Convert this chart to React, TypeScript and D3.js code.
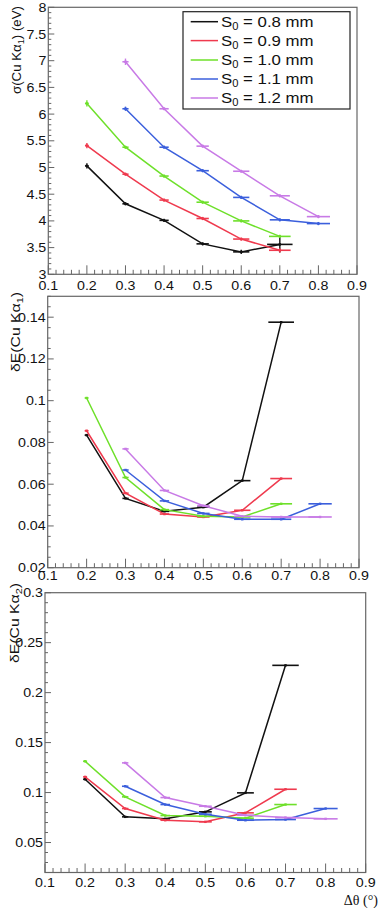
import React from "react";
import * as d3 from "d3";

// ---------- data ----------
const xLow = [0.2, 0.3, 0.4, 0.5, 0.6, 0.7];
const xHigh = [0.3, 0.4, 0.5, 0.6, 0.7, 0.8];

const seriesNames = ["0.8", "0.9", "1.0", "1.1", "1.2"];
const seriesColors = ["#111111", "#ef3a4e", "#6ee02a", "#3b5fdc", "#c87ae6"];

const xErrLow = [0.005, 0.008, 0.012, 0.016, 0.021, 0.028];
const xErrBlack = [0.005, 0.008, 0.012, 0.016, 0.021, 0.033];
const xErrHigh = [0.008, 0.012, 0.016, 0.021, 0.026, 0.03];

// sigma(Cu Ka1) (eV)
const sigBlack = [5.03, 4.32, 4.01, 3.57, 3.42, 3.56];
const sigRed = [5.41, 4.875, 4.39, 4.045, 3.66, 3.45];
const sigGreen = [6.2, 5.38, 4.84, 4.35, 4.0, 3.71];
const sigBlue = [6.1, 5.38, 4.94, 4.44, 4.02, 3.95];
const sigMagenta = [6.98, 6.1, 5.4, 4.93, 4.47, 4.08];

const sigErrBlack = [0.05, 0.03, 0.03, 0.03, 0.04, 0.15];
const sigErrRed = [0.05, 0.03, 0.03, 0.03, 0.03, 0.04];
const sigErrGreen = [0.06, 0.03, 0.03, 0.03, 0.03, 0.03];
const sigErrBlue = [0.04, 0.03, 0.03, 0.03, 0.03, 0.03];
const sigErrMagenta = [0.06, 0.03, 0.03, 0.03, 0.03, 0.03];

// dE(Cu Ka1)
const e1Black = [0.0835, 0.0532, 0.047, 0.049, 0.0617, 0.1376];
const e1Red = [0.0856, 0.0557, 0.0457, 0.0443, 0.0475, 0.0627];
const e1Green = [0.1013, 0.0632, 0.0478, 0.0446, 0.0443, 0.0506];
const e1Blue = [0.0668, 0.052, 0.046, 0.0432, 0.0432, 0.0506];
const e1Magenta = [0.0769, 0.057, 0.0497, 0.0446, 0.0443, 0.0443];

// dE(Cu Ka2)
const e2Black = [0.1133, 0.0757, 0.0737, 0.0807, 0.0997, 0.2273];
const e2Red = [0.1157, 0.084, 0.0723, 0.0707, 0.0797, 0.1033];
const e2Green = [0.1313, 0.0957, 0.077, 0.0763, 0.0743, 0.088];
const e2Blue = [0.1063, 0.088, 0.0783, 0.0723, 0.073, 0.084];
const e2Magenta = [0.1297, 0.095, 0.0863, 0.0773, 0.075, 0.0737];

const xTickLabels = ["0.1", "0.2", "0.3", "0.4", "0.5", "0.6", "0.7", "0.8", "0.9"];
const sigTickLabels = ["3", "3.5", "4", "4.5", "5", "5.5", "6", "6.5", "7", "7.5", "8"];
const e1TickLabels = ["0.02", "0.04", "0.06", "0.08", "0.1", "0.12", "0.14"];
const e2TickLabels = ["0.05", "0.1", "0.15", "0.2", "0.25", "0.3"];

type Series = { x: number[]; y: number[]; xe: number[]; ye?: number[]; color: string };

const FONT = "'Liberation Sans', Arial, Helvetica, sans-serif";
const AXIS_COL = "#666";

function SText(props: {
  x: number; y: number; size: number; anchor?: string; sx?: number; children: React.ReactNode; fill?: string; family?: string;
}) {
  const { x, y, size, anchor = "start", sx = 1.18, children, fill = "#111", family = FONT } = props;
  return (
    <g transform={`translate(${x},${y}) scale(${sx},1)`}>
      <text x={0} y={0} fontSize={size} textAnchor={anchor} fontFamily={family} fill={fill}>
        {children}
      </text>
    </g>
  );
}

function Panel(props: {
  x0: number; x1: number; yTop: number; yBot: number;
  yDomain: [number, number]; yMajor: number; yMinorN: number; yLabels: string[];
  series: Series[]; xLabelBase: number;
  title: React.ReactNode; titleX: number; titleEnd: number; titleLen: number;
}) {
  const { x0, x1, yTop, yBot, yDomain, yMajor, yMinorN, yLabels, series, xLabelBase, title, titleX, titleEnd, titleLen } = props;
  const xs = d3.scaleLinear().domain([0.1, 0.9]).range([x0, x1]);
  const ys = d3.scaleLinear().domain(yDomain).range([yBot, yTop]);

  const xMajor = xTickLabels.map((l) => +l);
  const xMinor: number[] = [];
  for (let i = 0; i < 40; i++) {
    const v = 0.1 + i * 0.02;
    if (i % 5 !== 0) xMinor.push(v);
  }
  const yMajorVals = yLabels.map((l) => +l);
  const yMinor: number[] = [];
  const step = yMajor / yMinorN;
  const start = Math.ceil((yDomain[0] - 1e-9) / step) * step;
  for (let v = start; v <= yDomain[1] + 1e-9; v += step) {
    const r = v / yMajor;
    if (Math.abs(r - Math.round(r)) > 1e-6) yMinor.push(v);
  }

  const line = d3
    .line<[number, number]>()
    .x((d) => xs(d[0]))
    .y((d) => ys(d[1]));

  return (
    <g>
      <rect x={x0} y={yTop} width={x1 - x0} height={yBot - yTop} fill="none" stroke={AXIS_COL} strokeWidth={1.2} />
      {xMajor.map((v, i) => (
        <line key={"xm" + i} x1={xs(v)} x2={xs(v)} y1={yBot} y2={yBot - 9} stroke={AXIS_COL} strokeWidth={1} />
      ))}
      {xMinor.map((v, i) => (
        <line key={"xn" + i} x1={xs(v)} x2={xs(v)} y1={yBot} y2={yBot - 4.5} stroke={AXIS_COL} strokeWidth={1} />
      ))}
      {yMajorVals.map((v, i) => (
        <line key={"ym" + i} x1={x0} x2={x0 + 6} y1={ys(v)} y2={ys(v)} stroke={AXIS_COL} strokeWidth={1} />
      ))}
      {yMinor.map((v, i) => (
        <line key={"yn" + i} x1={x0} x2={x0 + 3} y1={ys(v)} y2={ys(v)} stroke={AXIS_COL} strokeWidth={1} />
      ))}
      {xTickLabels.map((l, i) => (
        <SText key={"xl" + i} x={xs(+l)} y={xLabelBase} size={12.5} sx={1.14} anchor="middle">
          {l}
        </SText>
      ))}
      {yLabels.map((l, i) => (
        <SText key={"yl" + i} x={x0 - 2} y={ys(+l) + 4.5} size={12.5} sx={1.14} anchor="end">
          {l}
        </SText>
      ))}
      <text
        transform={`translate(${titleX},${titleEnd}) rotate(-90)`}
        textAnchor="end"
        fontSize={13}
        fontFamily={FONT}
        fill="#111"
        textLength={titleLen}
        lengthAdjust="spacingAndGlyphs"
      >
        {title}
      </text>
      {series.map((s, si) => {
        const pts: [number, number][] = s.x.map((xv, i) => [xv, s.y[i]]);
        return (
          <g key={"s" + si}>
            <path d={line(pts) || ""} fill="none" stroke={s.color} strokeWidth={1.5} />
            {pts.map((p, i) => (
              <g key={i}>
                <line
                  x1={xs(p[0] - s.xe[i])}
                  x2={xs(p[0] + s.xe[i])}
                  y1={ys(p[1])}
                  y2={ys(p[1])}
                  stroke={s.color}
                  strokeWidth={1.6}
                />
                {s.ye ? (
                  <line
                    x1={xs(p[0])}
                    x2={xs(p[0])}
                    y1={ys(p[1] - s.ye[i])}
                    y2={ys(p[1] + s.ye[i])}
                    stroke={s.color}
                    strokeWidth={1.4}
                  />
                ) : null}
                <rect x={xs(p[0]) - 1.2} y={ys(p[1]) - 1.2} width={2.4} height={2.4} fill={s.color} />
              </g>
            ))}
          </g>
        );
      })}
    </g>
  );
}

function mk(ys: number[][], ye?: number[][]): Series[] {
  const xArr = [xLow, xLow, xLow, xHigh, xHigh];
  const xeArr = [xErrBlack, xErrLow, xErrLow, xErrHigh, xErrHigh];
  return ys.map((y, i) => ({ x: xArr[i], y, xe: xeArr[i], ye: ye ? ye[i] : undefined, color: seriesColors[i] }));
}

export default function App() {
  const sigSeries = mk(
    [sigBlack, sigRed, sigGreen, sigBlue, sigMagenta],
    [sigErrBlack, sigErrRed, sigErrGreen, sigErrBlue, sigErrMagenta]
  );
  const e1Series = mk([e1Black, e1Red, e1Green, e1Blue, e1Magenta]);
  const e2Series = mk([e2Black, e2Red, e2Green, e2Blue, e2Magenta]);

  const legendRows = [21.7, 40.6, 60, 79, 98];

  return (
    <svg width={380} height={908} style={{ position: "absolute", left: 0, top: 0, background: "#fff" }}>
      <rect x={0} y={0} width={380} height={908} fill="#fff" />
      <Panel
        x0={48.3} x1={357} yTop={7.3} yBot={274.3}
        yDomain={[3, 8]} yMajor={0.5} yMinorN={5} yLabels={sigTickLabels}
        series={sigSeries} xLabelBase={290}
        title={<>σ(Cu Kα<tspan fontSize={9} dy={3}>1</tspan><tspan dy={-3}>) (eV)</tspan></>}
        titleX={20.5} titleEnd={6} titleLen={88}
      />
      <Panel
        x0={47.7} x1={359} yTop={296.3} yBot={567.7}
        yDomain={[0.02, 0.15]} yMajor={0.02} yMinorN={4} yLabels={e1TickLabels}
        series={e1Series} xLabelBase={579.5}
        title={<>δE(Cu Kα<tspan fontSize={9} dy={3}>1</tspan><tspan dy={-3}>)</tspan></>}
        titleX={19.5} titleEnd={292} titleLen={80}
      />
      <Panel
        x0={45} x1={365.7} yTop={592.7} yBot={872.5}
        yDomain={[0.02, 0.3]} yMajor={0.05} yMinorN={5} yLabels={e2TickLabels}
        series={e2Series} xLabelBase={887}
        title={<>δE(Cu Kα<tspan fontSize={9} dy={3}>2</tspan><tspan dy={-3}>)</tspan></>}
        titleX={18.5} titleEnd={583} titleLen={80}
      />
      <text x={378} y={905} textAnchor="end" fontSize={14} fontFamily="'Liberation Serif', 'Times New Roman', serif" fill="#111">
        Δθ  (°)
      </text>
      <rect x={183} y={11.7} width={167} height={97.3} fill="#fff" stroke="#222" strokeWidth={1.2} />
      {legendRows.map((yy, i) => (
        <g key={"lg" + i}>
          <line x1={190.7} x2={218} y1={yy} y2={yy} stroke={seriesColors[i]} strokeWidth={1.5} />
          <SText x={221} y={yy + 5.3} size={15} sx={1.12}>
            S<tspan fontSize={10} dy={3}>0</tspan>
            <tspan dy={-3}>{" = " + seriesNames[i] + " mm"}</tspan>
          </SText>
        </g>
      ))}
    </svg>
  );
}
